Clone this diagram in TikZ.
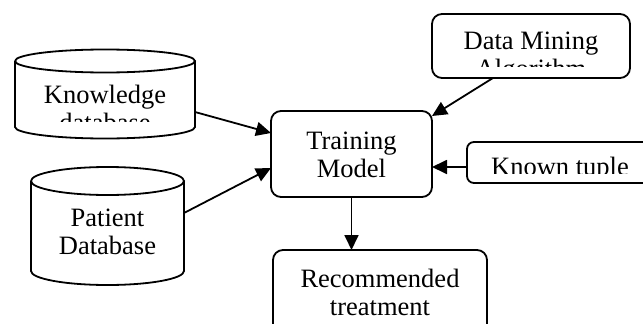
\documentclass[tikz,border=0pt]{standalone}
\usepackage{fontspec}
\setmainfont{Liberation Serif}
\usetikzlibrary{arrows.meta}
\begin{document}
\begin{tikzpicture}[x=1pt,y=-1pt,
  line/.style={line width=1.8pt},
  box/.style={draw, line width=1.8pt, rounded corners=10pt, inner sep=0pt, outer sep=0pt},
  body/.style={inner sep=0pt, outer sep=0pt},
  lbl/.style={align=center, inner sep=0pt, font=\fontsize{26.5}{28}\selectfont},
  arr/.style={line width=1.8pt, -{Triangle[length=15pt,width=14pt]}}]
\useasboundingbox (0,0) rectangle (643,324);
\fill[white] (0,0) rectangle (643,324);
\clip (0,0) rectangle (643,324);
% nodes (shapes)
\node[body, minimum width=180pt, minimum height=66pt] (kb) at (105,94) {};
\node[body, minimum width=153pt, minimum height=90pt] (pd) at (107.5,226) {};
\node[box, minimum width=161pt, minimum height=86pt] (train) at (351.5,154) {};
\node[box, minimum width=198pt, minimum height=64pt] (dm) at (531,46) {};
\node[box, rounded corners=7pt, minimum width=193pt, minimum height=41pt] (kt) at (563.5,162.5) {};
\node[box, minimum width=214pt, minimum height=90pt] (rec) at (380,295) {};
% cylinders
\draw[line] (kb.north west) arc[start angle=180, end angle=-180, x radius=90pt, y radius=11.5pt];
\draw[line] (kb.north west) -- (kb.south west) arc[start angle=180, end angle=360, x radius=90pt, y radius=11.5pt] -- (kb.north east);
\draw[line] (pd.north west) arc[start angle=180, end angle=-180, x radius=76.5pt, y radius=14pt];
\draw[line] (pd.north west) -- (pd.south west) arc[start angle=180, end angle=360, x radius=76.5pt, y radius=14pt] -- (pd.north east);
% texts
\begin{scope}
\clip (15,80) rectangle (195,121);
\node[lbl] (kbt) at (105,108) {Knowledge\\database};
\end{scope}
\node[lbl] (pdt) at (107.5,232) {Patient\\Database};
\node[lbl] (trt) at (351.5,155) {Training\\Model};
\begin{scope}
\clip (433,20) rectangle (629,66.5);
\node[lbl] (dmt) at (531,57.5) {Data Mining\\Algorithm};
\end{scope}
\begin{scope}
\clip (470,145) rectangle (643,173);
\node[lbl] (ktt) at (560,169) {Known tuple};
\end{scope}
\node[lbl] (rect) at (380,292) {Recommended\\treatment};
% arrows
\draw[arr] ([yshift=-18pt]kb.east) -- ([yshift=21pt]train.west);
\draw[arr] ([yshift=13pt]pd.east) -- ([yshift=-14pt]train.west);
\draw[arr] ([xshift=-38pt]dm.south) -- ([yshift=-5pt]train.north east);
\draw[arr] ([yshift=-4.5pt]kt.west) -- ([yshift=-13pt]train.east);
\draw[arr] (train.south) -- (train.south |- rec.north);
\end{tikzpicture}
\end{document}
